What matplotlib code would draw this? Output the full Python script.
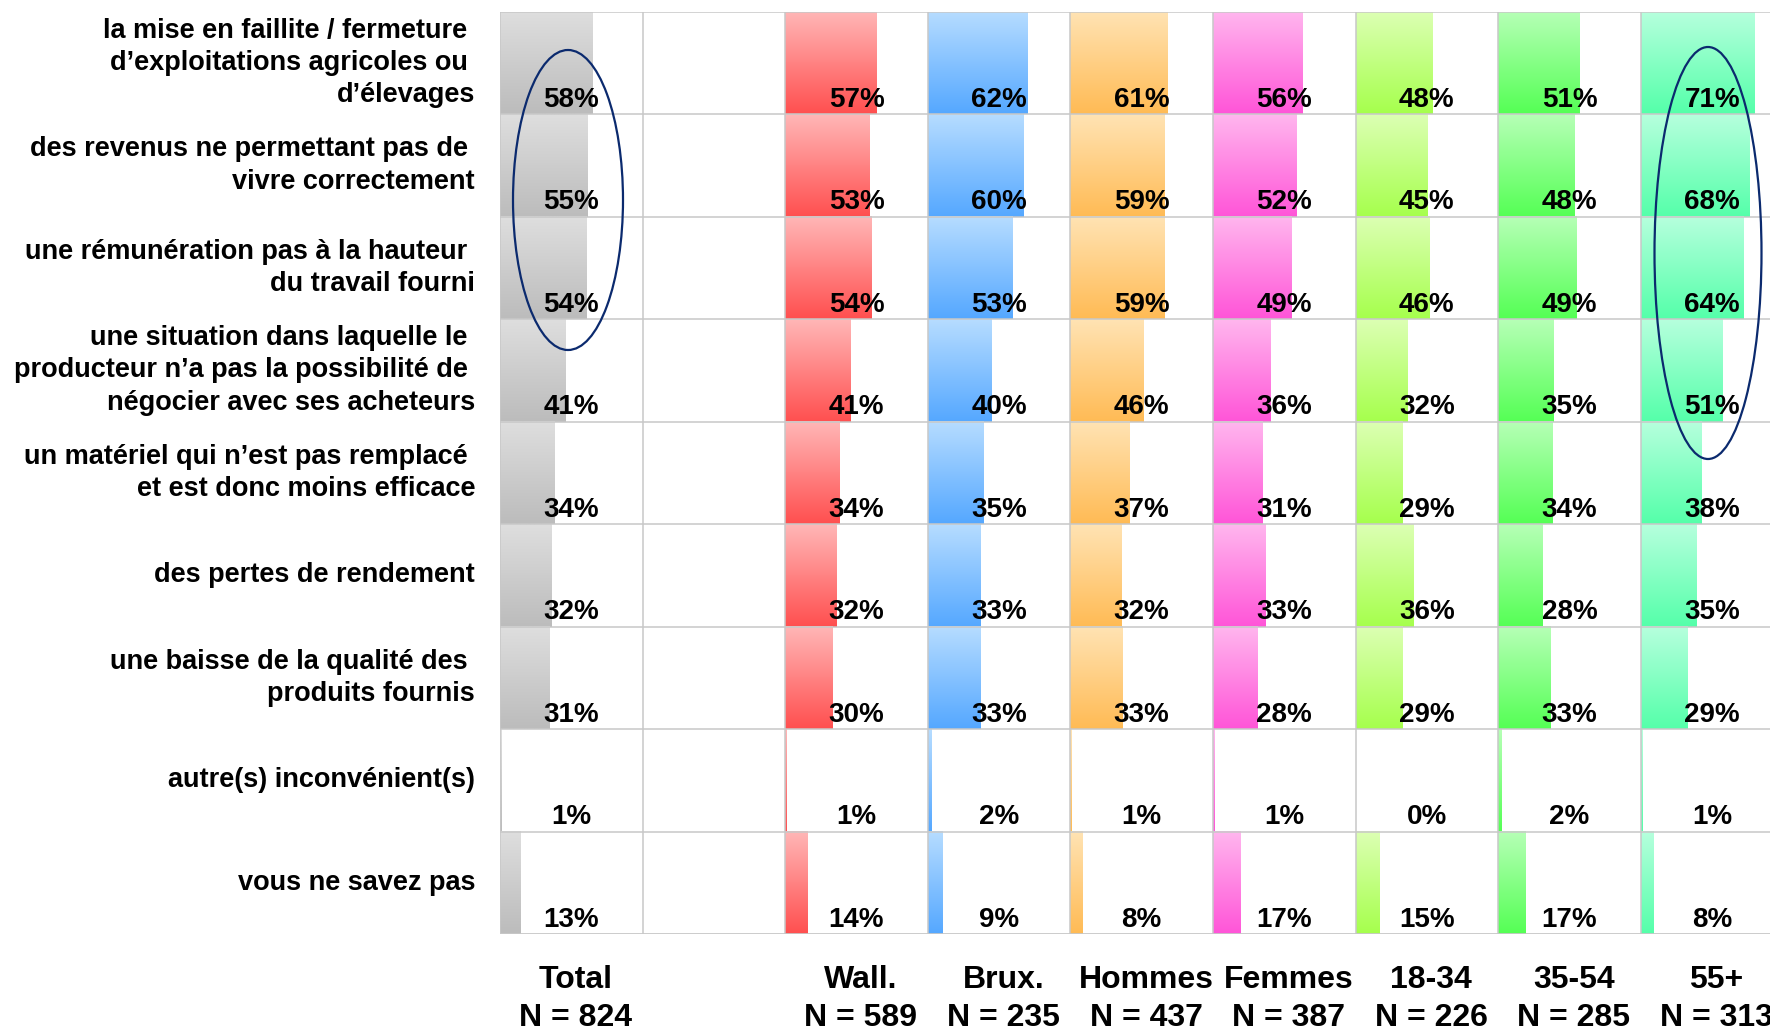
import numpy as np
import matplotlib
matplotlib.use("Agg")
import matplotlib.pyplot as plt
from matplotlib.colors import LinearSegmentedColormap
from matplotlib.patches import Ellipse

plt.rcParams['font.family'] = ['Liberation Sans', 'DejaVu Sans']
plt.rcParams['font.weight'] = 'bold'

# data
items = [
    "la mise en faillite / fermeture \nd\u2019exploitations agricoles ou \nd\u2019\u00e9levages",
    "des revenus ne permettant pas de \nvivre correctement",
    "une r\u00e9mun\u00e9ration pas \u00e0 la hauteur \ndu travail fourni",
    "une situation dans laquelle le \nproducteur n\u2019a pas la possibilit\u00e9 de \nn\u00e9gocier avec ses acheteurs",
    "un mat\u00e9riel qui n\u2019est pas remplac\u00e9 \net est donc moins efficace",
    "des pertes de rendement",
    "une baisse de la qualit\u00e9 des \nproduits fournis",
    "autre(s) inconv\u00e9nient(s)",
    "vous ne savez pas",
]

groups = ["Total", "Wall.", "Brux.", "Hommes", "Femmes", "18-34", "35-54", "55+"]
sizes = [824, 589, 235, 437, 387, 226, 285, 313]

total = [58, 55, 54, 41, 34, 32, 31, 1, 13]
wall = [57, 53, 54, 41, 34, 32, 30, 1, 14]
brux = [62, 60, 53, 40, 35, 33, 33, 2, 9]
hommes = [61, 59, 59, 46, 37, 32, 33, 1, 8]
femmes = [56, 52, 49, 36, 31, 33, 28, 1, 17]
age_18_34 = [48, 45, 46, 32, 29, 36, 29, 0, 15]
age_35_54 = [51, 48, 49, 35, 34, 28, 33, 2, 17]
age_55 = [71, 68, 64, 51, 38, 35, 29, 1, 8]

series = [total, wall, brux, hommes, femmes, age_18_34, age_35_54, age_55]
columns = [0, 2, 3, 4, 5, 6, 7, 8]   # column 1 stays empty

# gradient colours (top, bottom)
colors = [
    ("#dedede", "#bcbcbc"),
    ("#ffb6b6", "#ff5050"),
    ("#b6dcff", "#55a8ff"),
    ("#ffe3b3", "#ffbb55"),
    ("#ffb6ee", "#ff55d8"),
    ("#dcffb3", "#a6ff4d"),
    ("#b6ffb6", "#55ff55"),
    ("#b6ffdd", "#55ffaa"),
]

W, H = 1770, 1030
fig = plt.figure(figsize=(W / 100, H / 100), dpi=100)
fig.patch.set_facecolor("white")

col_px = 142.6
top_px, bot_px, left_px = 11.7, 934, 500
ax = fig.add_axes([left_px / W, 1 - bot_px / H, (W - left_px) / W, (bot_px - top_px) / H])
ax.set_axis_off()

scale = 160 / col_px / 100   # bar length per percent, in column units
nrows = len(items)
grad = np.linspace(0, 1, 64).reshape(-1, 1)

for s, (vals, col) in enumerate(zip(series, columns)):
    cmap = LinearSegmentedColormap.from_list("g%d" % s, colors[s])
    for i, v in enumerate(vals):
        if v > 0:
            ax.imshow(grad, cmap=cmap, aspect="auto", origin="upper",
                      extent=(col, col + v * scale, i + 1, i), zorder=1,
                      interpolation="bilinear")
        ax.text(col + 0.5, i + 1 - 0.07, "%d%%" % v, ha="center", va="baseline",
                fontsize=20, fontweight="bold", zorder=5)

# grid
for x in range(0, 10):
    ax.axvline(x, color="#c8c8c8", lw=1.1, zorder=3)
for y in range(0, nrows + 1):
    ax.axhline(y, color="#c8c8c8", lw=1.1 if y < nrows else 2, zorder=3)

ax.set_xlim(0, (W - left_px) / col_px)
ax.set_ylim(nrows, 0)

# ellipses
row_px = (bot_px - top_px) / nrows
def px2data(x, y):
    return (x - left_px) / col_px, (y - top_px) / row_px

for cx, cy, w, h in [(568, 200, 110, 300), (1708, 253, 107, 412)]:
    dx, dy = px2data(cx, cy)
    ax.add_patch(Ellipse((dx, dy), w / col_px, h / row_px, fill=False,
                         edgecolor="#0b2a6e", lw=1.6, zorder=6, clip_on=False))

# row labels
for i, lab in enumerate(items):
    yc = 1 - (top_px + (i + 0.5) * row_px) / H
    fig.text(475 / W, yc, lab, ha="right", va="center", multialignment="right",
             fontsize=19.5, fontweight="bold", linespacing=1.32)

# column headers
for g, n, col in zip(groups, sizes, columns):
    xc = (left_px + (col + 0.53) * col_px) / W
    fig.text(xc, 1 - 980 / H, g, ha="center", va="center", fontsize=23, fontweight="bold")
    fig.text(xc, 1 - 1018 / H, "N = %d" % n, ha="center", va="center", fontsize=23,
             fontweight="bold")

fig.savefig("out.png", dpi=100, facecolor="white")
